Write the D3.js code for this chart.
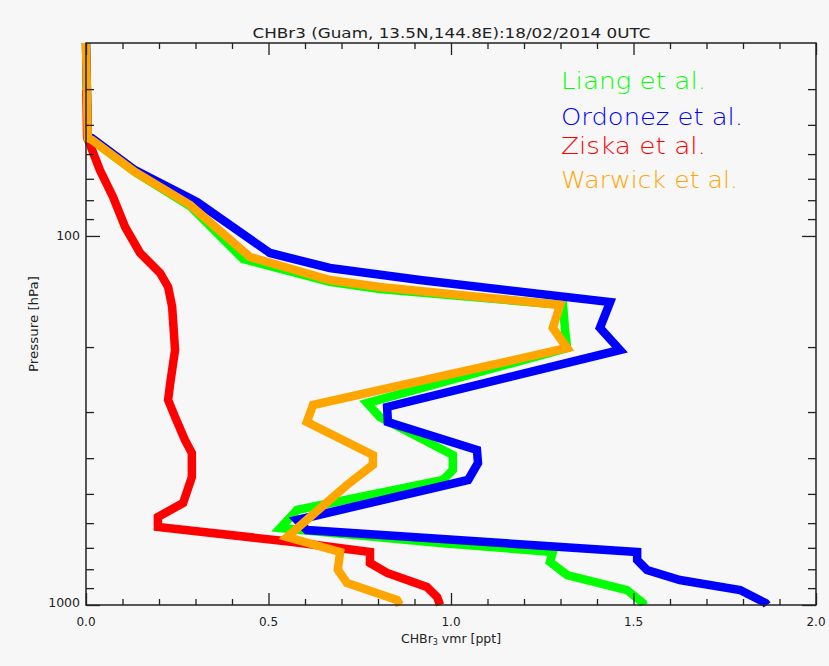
<!DOCTYPE html>
<html>
<head>
<meta charset="utf-8">
<script src="https://cdn.jsdelivr.net/npm/d3@7"></script>
<style>
  html, body { margin: 0; padding: 0; background: #f7f7f7; }
  svg { display: block; }
  text { font-family: "DejaVu Sans", sans-serif; }
</style>
</head>
<body>
<script>
// ---- Data (CHBr3 vmr [ppt] vs pressure [hPa]) ----
const title = "CHBr3 (Guam, 13.5N,144.8E):18/02/2014 0UTC";
const seriesNames = ["Liang et al.", "Ordonez et al.", "Ziska et al.", "Warwick et al."];
const seriesColors = ["#00ff00", "#0000ff", "#ff0000", "#ffa500"];

const liangP = [30, 54.3, 54.9, 67.1, 83.0, 115.4, 133.2, 139.2, 153.8, 177.5, 201.2, 283.6, 309.4, 392.3, 430.6, 458.4, 552.8, 618.5, 679.2, 718.5, 764.6, 829.3, 910.8, 987.6, 1000];
const liangV = [0.0, 0.005, 0.016, 0.134, 0.285, 0.430, 0.668, 0.805, 1.307, 1.312, 1.318, 0.770, 0.805, 1.005, 1.005, 0.978, 0.578, 0.532, 0.970, 1.279, 1.271, 1.318, 1.482, 1.526, 1.528];

const ordonezP = [30, 53.9, 54.3, 66.3, 80.9, 111.2, 122.1, 131.6, 151.0, 177.5, 203.7, 290.7, 319.2, 380.2, 412.3, 458.4, 588.4, 626.3, 718.5, 755.1, 803.7, 855.6, 910.8, 987.6, 1000];
const ordonezV = [0.0, 0.005, 0.016, 0.134, 0.304, 0.504, 0.668, 0.915, 1.436, 1.408, 1.463, 0.825, 0.827, 1.071, 1.074, 1.047, 0.578, 0.605, 1.510, 1.510, 1.537, 1.627, 1.792, 1.862, 1.866];

const ziskaP = [40.2, 53.9, 66.3, 78.4, 94.5, 111.2, 126.0, 137.5, 155.7, 203.7, 253.5, 278.3, 309.4, 357.1, 387.4, 449.9, 529.2, 577.5, 614.6, 675.0, 718.5, 769.4, 819.0, 894.0, 951.5, 1000];
const ziskaV = [0.001, 0.003, 0.038, 0.074, 0.107, 0.148, 0.203, 0.225, 0.236, 0.244, 0.230, 0.225, 0.244, 0.271, 0.290, 0.290, 0.266, 0.197, 0.197, 0.567, 0.778, 0.778, 0.825, 0.934, 0.962, 0.970];

const warwickP = [30, 54.3, 54.9, 67.1, 82.4, 114.0, 131.6, 137.5, 153.8, 177.5, 201.2, 287.1, 319.2, 392.3, 417.4, 472.9, 654.2, 718.5, 803.7, 871.8, 969.2, 1000];
const warwickV = [0.0, 0.005, 0.016, 0.134, 0.285, 0.449, 0.668, 0.805, 1.299, 1.279, 1.318, 0.622, 0.605, 0.786, 0.786, 0.715, 0.551, 0.696, 0.690, 0.715, 0.852, 0.860];

const xMajorTicks = [0, 0.5, 1.0, 1.5, 2.0];
const xTickLabels = ["0.0", "0.5", "1.0", "1.5", "2.0"];
const xMinorTicks = [0.1, 0.2, 0.3, 0.4, 0.6, 0.7, 0.8, 0.9, 1.1, 1.2, 1.3, 1.4, 1.6, 1.7, 1.8, 1.9];
const yMajorTicks = [100, 1000];
const yTickLabels = ["100", "1000"];
const yMinorTicks = [40, 50, 60, 70, 80, 90, 200, 300, 400, 500, 600, 700, 800, 900];

// ---- Layout ----
const W = 829, H = 666;
const L = 86, R = 816, T = 43, B = 605;

const svg = d3.select("body").append("svg").attr("width", W).attr("height", H)
  .style("background", "#f7f7f7");

const x = d3.scaleLinear().domain([0, 2]).range([L, R]);
const y = d3.scaleLog().domain([30, 1000]).range([T, B]);

const series = [
  {v: liangV, p: liangP},
  {v: ordonezV, p: ordonezP},
  {v: ziskaV, p: ziskaP},
  {v: warwickV, p: warwickP}
];

const line = d3.line().x(d => x(d[0])).y(d => y(d[1]));

const gLines = svg.append("g");
series.forEach((s, i) => {
  const pts = s.v.map((v, k) => [v, s.p[k]]);
  gLines.append("path")
    .attr("d", line(pts))
    .attr("fill", "none")
    .attr("stroke", seriesColors[i])
    .attr("stroke-width", 8.5)
    .attr("stroke-linejoin", "miter")
    .attr("stroke-miterlimit", 3)
    .attr("stroke-linecap", "butt");
});

// ---- Axes ----
const axisColor = "#222";
function styleAxis(g) {
  g.select(".domain").remove();
  g.selectAll("line").attr("stroke", axisColor).attr("stroke-width", 1.3);
  g.selectAll("text").remove();
}
// bottom
svg.append("g").attr("transform", `translate(0,${B})`)
  .call(d3.axisBottom(x).tickValues(xMajorTicks).tickSize(-12)).call(styleAxis);
svg.append("g").attr("transform", `translate(0,${B})`)
  .call(d3.axisBottom(x).tickValues(xMinorTicks).tickSize(-6)).call(styleAxis);
// top
svg.append("g").attr("transform", `translate(0,${T})`)
  .call(d3.axisTop(x).tickValues(xMajorTicks).tickSize(-12)).call(styleAxis);
svg.append("g").attr("transform", `translate(0,${T})`)
  .call(d3.axisTop(x).tickValues(xMinorTicks).tickSize(-6)).call(styleAxis);
// left
svg.append("g").attr("transform", `translate(${L},0)`)
  .call(d3.axisLeft(y).tickValues(yMajorTicks).tickSize(-14)).call(styleAxis);
svg.append("g").attr("transform", `translate(${L},0)`)
  .call(d3.axisLeft(y).tickValues(yMinorTicks).tickSize(-8)).call(styleAxis);
// right
svg.append("g").attr("transform", `translate(${R},0)`)
  .call(d3.axisRight(y).tickValues(yMajorTicks).tickSize(-14)).call(styleAxis);
svg.append("g").attr("transform", `translate(${R},0)`)
  .call(d3.axisRight(y).tickValues(yMinorTicks).tickSize(-8)).call(styleAxis);

// frame
svg.append("rect").attr("x", L).attr("y", T).attr("width", R - L).attr("height", B - T)
  .attr("fill", "none").attr("stroke", axisColor).attr("stroke-width", 1.5);

// tick labels
svg.append("g").selectAll("text").data(xMajorTicks).join("text")
  .attr("x", d => x(d)).attr("y", 626)
  .attr("text-anchor", "middle").attr("font-size", 12).attr("fill", "#222")
  .text((d, i) => xTickLabels[i]);
svg.append("g").selectAll("text").data(yMajorTicks).join("text")
  .attr("x", L - 6).attr("y", d => Math.min(y(d), B - 3)).attr("dy", "0.36em")
  .attr("text-anchor", "end").attr("font-size", 12.5).attr("fill", "#222")
  .text((d, i) => yTickLabels[i]);

// title
svg.append("text").attr("x", (L + R) / 2 + 0.5).attr("y", 38)
  .attr("text-anchor", "middle").attr("font-size", 14).attr("fill", "#222")
  .attr("textLength", 398).attr("lengthAdjust", "spacingAndGlyphs")
  .text(title);

// axis titles
const xt = svg.append("text").attr("x", (L + R) / 2).attr("y", 643)
  .attr("text-anchor", "middle").attr("font-size", 12.5).attr("fill", "#222");
xt.append("tspan").text("CHBr");
xt.append("tspan").attr("font-size", 8).attr("dy", 2).text("3");
xt.append("tspan").attr("dy", -2).text(" vmr [ppt]");

svg.append("text").attr("transform", `translate(38,${(T + B) / 2}) rotate(-90)`)
  .attr("text-anchor", "middle").attr("font-size", 12).attr("fill", "#222")
  .attr("textLength", 96).attr("lengthAdjust", "spacingAndGlyphs")
  .text("Pressure [hPa]");

// legend
const legY = [89, 125, 154, 188];
const legW = [145, 182, 145, 177];
svg.append("g").selectAll("text").data(seriesNames).join("text")
  .attr("x", 561).attr("y", (d, i) => legY[i])
  .attr("font-size", 23).attr("font-weight", 200)
  .attr("fill", (d, i) => seriesColors[i])
  .attr("textLength", (d, i) => legW[i]).attr("lengthAdjust", "spacingAndGlyphs")
  .text(d => d);
</script>
</body>
</html>
